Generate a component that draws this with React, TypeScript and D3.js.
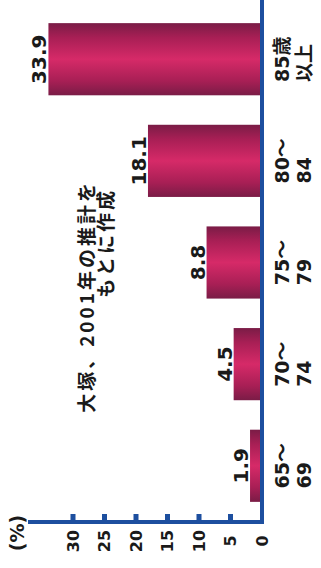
import React, { useEffect, useRef } from "react";
import * as d3 from "d3";

const categories = ["85歳以上", "80〜84", "75〜79", "70〜74", "65〜69"];
const labelLine1 = ["85歳", "80〜", "75〜", "70〜", "65〜"];
const labelLine2 = ["以上", "84", "79", "74", "69"];
const values = [33.9, 18.1, 8.8, 4.5, 1.9];
const valueLabels = ["33.9", "18.1", "8.8", "4.5", "1.9"];
const tickValues = [0, 5, 10, 15, 20, 25, 30];
const unitLabel = "(%)";
const titleLines = ["大塚、2001年の推計を", "もとに作成"];

const W = 321;
const H = 568;
const AXIS = "#1d4f9f";
const FONT = "'DejaVu Sans', 'Noto Sans CJK JP', sans-serif";
const CJK = "'Noto Sans CJK JP', sans-serif";

export default function App() {
  const ref = useRef<SVGSVGElement | null>(null);

  useEffect(() => {
    const svg = d3.select(ref.current);
    svg.selectAll("*").remove();

    const x = d3.scaleLinear().domain([0, 30]).range([262, 73]);
    const y = d3
      .scaleBand<string>()
      .domain(categories)
      .range([15, 510])
      .paddingInner(0.29)
      .paddingOuter(0.08);

    const defs = svg.append("defs");
    const grad = defs
      .append("linearGradient")
      .attr("id", "barGrad")
      .attr("x1", 0)
      .attr("y1", 0)
      .attr("x2", 0)
      .attr("y2", 1);
    [
      [0, "#7a1c46"],
      [0.2, "#a81f55"],
      [0.5, "#d62a68"],
      [0.8, "#a81f55"],
      [1, "#7a1c46"],
    ].forEach(([o, c]) =>
      grad.append("stop").attr("offset", o as number).attr("stop-color", c as string)
    );

    svg.append("rect").attr("width", W).attr("height", H).attr("fill", "#ffffff");

    // bars
    svg
      .append("g")
      .selectAll("rect")
      .data(values)
      .join("rect")
      .attr("x", (d) => x(d))
      .attr("y", (_, i) => y(categories[i])!)
      .attr("width", (d) => x(0) - x(d))
      .attr("height", y.bandwidth())
      .attr("fill", "url(#barGrad)");

    // value labels
    svg
      .append("g")
      .selectAll("text")
      .data(values)
      .join("text")
      .attr(
        "transform",
        (d, i) => `translate(${x(d) - 2},${y(categories[i])! + y.bandwidth() / 2}) rotate(-90)`
      )
      .attr("text-anchor", "middle")
      .attr("font-family", FONT)
      .attr("font-weight", "bold")
      .attr("font-size", 20)
      .attr("fill", "#1a1a1a")
      .text((_, i) => valueLabels[i]);

    // axes
    const axisG = svg.append("g");
    axisG
      .append("line")
      .attr("x1", x(0))
      .attr("x2", x(0))
      .attr("y1", 0)
      .attr("y2", 524)
      .attr("stroke", AXIS)
      .attr("stroke-width", 4);
    axisG
      .append("line")
      .attr("x1", 28)
      .attr("x2", x(0) + 2)
      .attr("y1", 522)
      .attr("y2", 522)
      .attr("stroke", AXIS)
      .attr("stroke-width", 4);
    axisG
      .selectAll("rect.tick")
      .data(tickValues.filter((t) => t > 0))
      .join("rect")
      .attr("class", "tick")
      .attr("x", (d) => x(d) - 2.5)
      .attr("y", 514)
      .attr("width", 5)
      .attr("height", 8)
      .attr("fill", AXIS);

    // tick labels
    svg
      .append("g")
      .selectAll("text")
      .data(tickValues)
      .join("text")
      .attr("transform", (d) => `translate(${x(d)},541) rotate(-90)`)
      .attr("text-anchor", "middle")
      .attr("dominant-baseline", "central")
      .attr("font-family", FONT)
      .attr("font-weight", "bold")
      .attr("font-size", 16)
      .attr("fill", "#1a1a1a")
      .text((d) => String(d));

    svg
      .append("text")
      .attr("transform", `translate(17,533) rotate(-90)`)
      .attr("text-anchor", "middle")
      .attr("dominant-baseline", "central")
      .attr("font-family", FONT)
      .attr("font-weight", "bold")
      .attr("font-size", 19)
      .attr("fill", "#1a1a1a")
      .text(unitLabel);

    // category labels
    const catG = svg.append("g");
    categories.forEach((c, i) => {
      const cy = y(c)! + y.bandwidth() / 2;
      const t1 = catG
        .append("text")
        .attr("transform", `translate(282,${cy}) rotate(-90)`)
        .attr("text-anchor", "middle")
        .attr("dominant-baseline", "central")
        .attr("font-family", FONT)
        .attr("font-weight", "bold")
        .attr("font-size", 19)
        .attr("fill", "#1a1a1a")
        .text(labelLine1[i]);
      const len = (t1.node() as SVGTextElement).getComputedTextLength();
      catG
        .append("text")
        .attr("transform", `translate(304,${cy + len / 2}) rotate(-90)`)
        .attr("text-anchor", "start")
        .attr("dominant-baseline", "central")
        .attr("font-family", FONT)
        .attr("font-weight", "bold")
        .attr("font-size", 19)
        .attr("fill", "#1a1a1a")
        .text(labelLine2[i]);
    });

    // title
    const titleX = [85, 104.5];
    const titleEnd = [180, 188];
    titleLines.forEach((t, i) => {
      svg
        .append("text")
        .attr("transform", `translate(${titleX[i]},${titleEnd[i]}) rotate(-90)`)
        .attr("text-anchor", "end")
        .attr("dominant-baseline", "central")
        .attr("font-family", CJK)
        .attr("font-weight", "bold")
        .attr("font-size", 19)
        .attr("letter-spacing", 3)
        .attr("fill", "#1a1a1a")
        .text(t);
    });
  }, []);

  return (
    <svg
      ref={ref}
      width={W}
      height={H}
      style={{ position: "absolute", left: 0, top: 0, display: "block" }}
    />
  );
}
